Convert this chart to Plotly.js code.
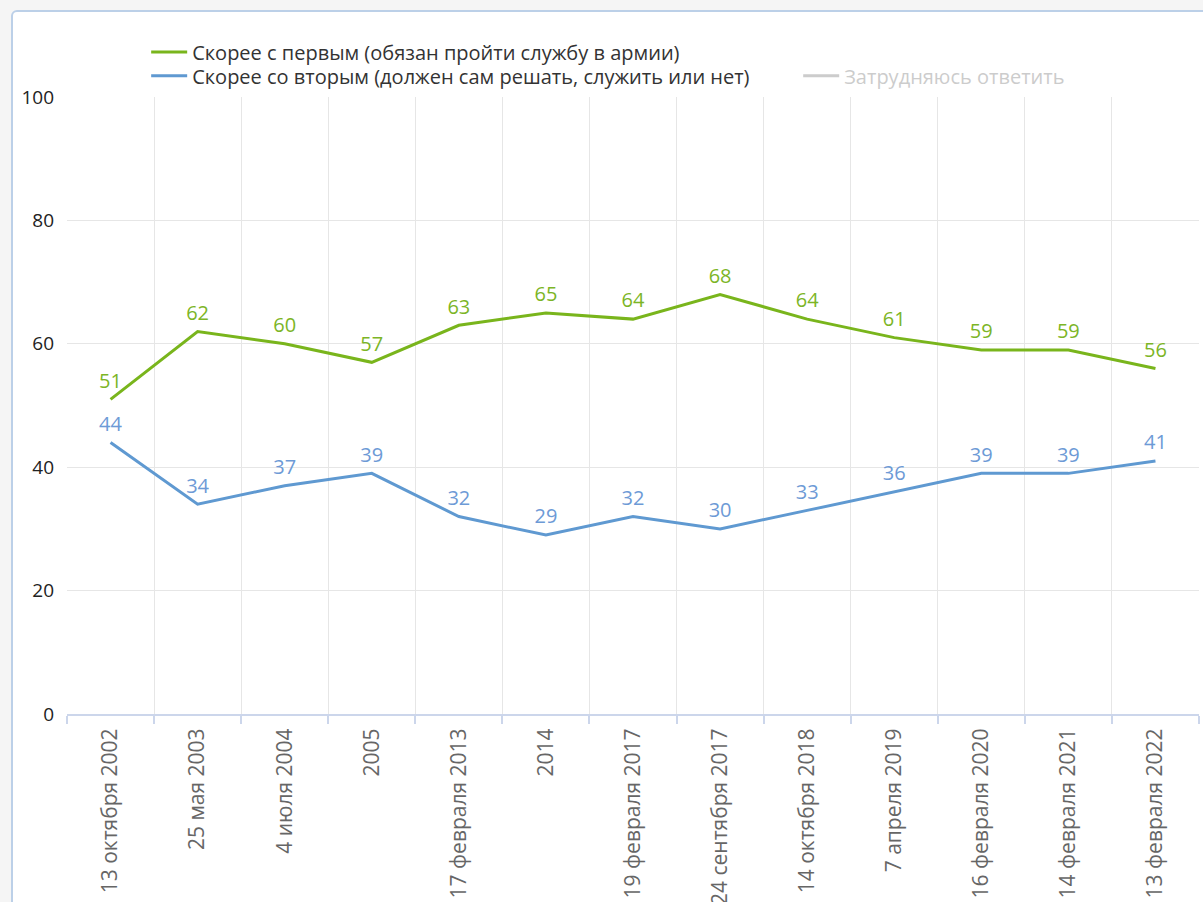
<!DOCTYPE html>
<html>
<head>
<meta charset="utf-8">
<script src="https://cdn.plot.ly/plotly-3.0.1.min.js"></script>
<style>
html,body{margin:0;padding:0;background:#f5f5f5;overflow:hidden;width:1203px;height:902px;}
#frame{position:absolute;left:11px;top:10px;width:1300px;height:1000px;border:2px solid #bcd0e8;border-radius:6px;background:#fff;}
#chart{position:absolute;left:0;top:0;width:1203px;height:902px;}
</style>
</head>
<body>
<div id="frame"></div>
<div id="chart"></div>
<script>
var categories = ["13 октября 2002","25 мая 2003","4 июля 2004","2005","17 февраля 2013","2014","19 февраля 2017","24 сентября 2017","14 октября 2018","7 апреля 2019","16 февраля 2020","14 февраля 2021","13 февраля 2022"];
var firstOption = [51,62,60,57,63,65,64,68,64,61,59,59,56];
var secondOption = [44,34,37,39,32,29,32,30,33,36,39,39,41];
var hardToSay = [5,4,3,4,5,6,4,2,3,3,2,2,3];
var seriesNames = ["Скорее с первым (обязан пройти службу в армии)","Скорее со вторым (должен сам решать, служить или нет)","Затрудняюсь ответить"];

var FONT = "Open Sans, Liberation Sans, sans-serif";
var green = "#79b51c", blue = "#5f99d1";

function labels(vals, color) {
  return {x: categories, y: vals, type: "scatter", mode: "markers+text", showlegend: false,
          marker: {size: 9, opacity: 0, color: color}, text: vals.map(String),
          textposition: "top center", textfont: {family: FONT, size: 20, color: color},
          cliponaxis: false, hoverinfo: "skip"};
}

var traces = [
  {x: categories, y: firstOption, name: seriesNames[0], type: "scatter", mode: "lines",
   line: {color: green, width: 3}, legend: "legend"},
  {x: categories, y: secondOption, name: seriesNames[1], type: "scatter", mode: "lines",
   line: {color: blue, width: 3}, legend: "legend3"},
  {x: categories, y: hardToSay, name: seriesNames[2], type: "scatter", mode: "lines",
   line: {color: "#999999", width: 3}, visible: "legendonly", legend: "legend2"},
  labels(firstOption, "#7cb526"),
  labels(secondOption, "#6d9ad6")
];

function leg(x, y, color) {
  return {orientation: "v", xref: "container", yref: "container", x: x, y: y,
          xanchor: "left", yanchor: "top", font: {family: FONT, size: 20, color: color},
          bgcolor: "rgba(0,0,0,0)", itemwidth: 36};
}

var layout = {
  width: 1203, height: 902,
  paper_bgcolor: "rgba(0,0,0,0)", plot_bgcolor: "rgba(0,0,0,0)",
  margin: {l: 67, r: 4, t: 97, b: 188, pad: 0, autoexpand: false},
  font: {family: FONT, size: 20, color: "#333"},
  showlegend: true,
  legend: leg(0.1215, 0.964, "#333"),
  legend3: leg(0.1215, 0.9376, "#333"),
  legend2: leg(0.6635, 0.9376, "#999"),
  xaxis: {type: "category", range: [-0.5, 12.5], tickson: "boundaries", showgrid: true,
          gridcolor: "#e6e6e6", gridwidth: 1, ticks: "outside", ticklen: 8, tickcolor: "#ccd6eb",
          tickwidth: 2, showline: true, linecolor: "#ccd6eb", linewidth: 2, tickangle: -90,
          tickfont: {family: FONT, size: 21, color: "#666"}, automargin: false,
          ticklabelstandoff: 4, fixedrange: true},
  yaxis: {range: [0, 100], dtick: 20, showgrid: true, gridcolor: "#e6e6e6", gridwidth: 1,
          zeroline: false, showline: false, ticks: "",
          tickfont: {family: FONT, size: 19, color: "#222"}, automargin: false,
          ticklabelstandoff: 12, fixedrange: true}
};

Plotly.newPlot("chart", traces, layout, {displayModeBar: false, staticPlot: true});
</script>
</body>
</html>
